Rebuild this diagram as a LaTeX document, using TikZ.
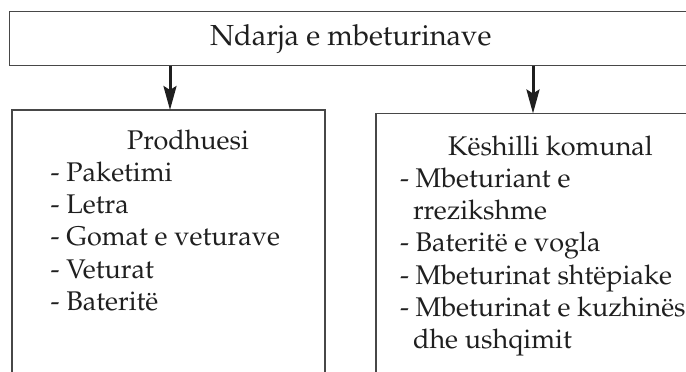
\documentclass[tikz,border=0pt]{standalone}
\usepackage[T1]{fontenc}
\usepackage{mathpazo}
\usetikzlibrary{arrows.meta}
\begin{document}
\begin{tikzpicture}[x=1pt,y=-1pt,
  boxline/.style={draw=black!72,line width=1.2pt,inner sep=0pt,outer sep=0pt},
  txt/.style={anchor=base west,inner sep=0pt,outer sep=0pt,text=black!88,font=\fontsize{27}{32}\selectfont},
  ttl/.style={anchor=base west,inner sep=0pt,outer sep=0pt,text=black!88,font=\fontsize{29}{34}\selectfont},
  arr/.style={draw=black!88,line width=3pt,-{Stealth[length=24pt,width=13pt,inset=4pt]}}]
\useasboundingbox (0,0) rectangle (686,372);
\clip (0,0) rectangle (686,372);
% boxes (open at the right / bottom edges of the picture)
\node[boxline,minimum width=700pt,minimum height=54pt,anchor=north west] (topbox) at (9.5,11.7) {};
\node[boxline,minimum width=313pt,minimum height=300pt,anchor=north west] (leftbox) at (12,110) {};
\node[boxline,minimum width=330pt,minimum height=300pt,anchor=north west] (rightbox) at (376,113.5) {};
% texts
\node[ttl] (t0) at (210,45.5) {Ndarja e mbeturinave};
\node[txt] (l0) at (127,149) {Prodhuesi};
\node[txt] (l1) at (50.7,181.5) {- Paketimi};
\node[txt] (l2) at (50.7,213.7) {- Letra};
\node[txt] (l3) at (50.7,245.9) {- Gomat e veturave};
\node[txt] (l4) at (50.7,278.1) {- Veturat};
\node[txt] (l5) at (50.7,310.3) {- Baterit\"e};
\node[txt] (r0) at (448,155) {K\"eshilli komunal};
\node[txt] (r1) at (400,187.5) {- Mbeturiant e};
\node[txt] (r2) at (413,219.7) {rrezikshme};
\node[txt] (r3) at (400,251.9) {- Baterit\"e e vogla};
\node[txt] (r4) at (400,284.1) {- Mbeturinat sht\"epiake};
\node[txt] (r5) at (400,316.3) {- Mbeturinat e kuzhin\"es};
\node[txt] (r6) at (413,348.5) {dhe ushqimit};
% arrows
\coordinate (s1) at (170,65.7);
\coordinate (s2) at (533,65.7);
\draw[arr] (s1) -- (s1 |- leftbox.north);
\draw[arr] (s2) -- (s2 |- rightbox.north);
\end{tikzpicture}
\end{document}
